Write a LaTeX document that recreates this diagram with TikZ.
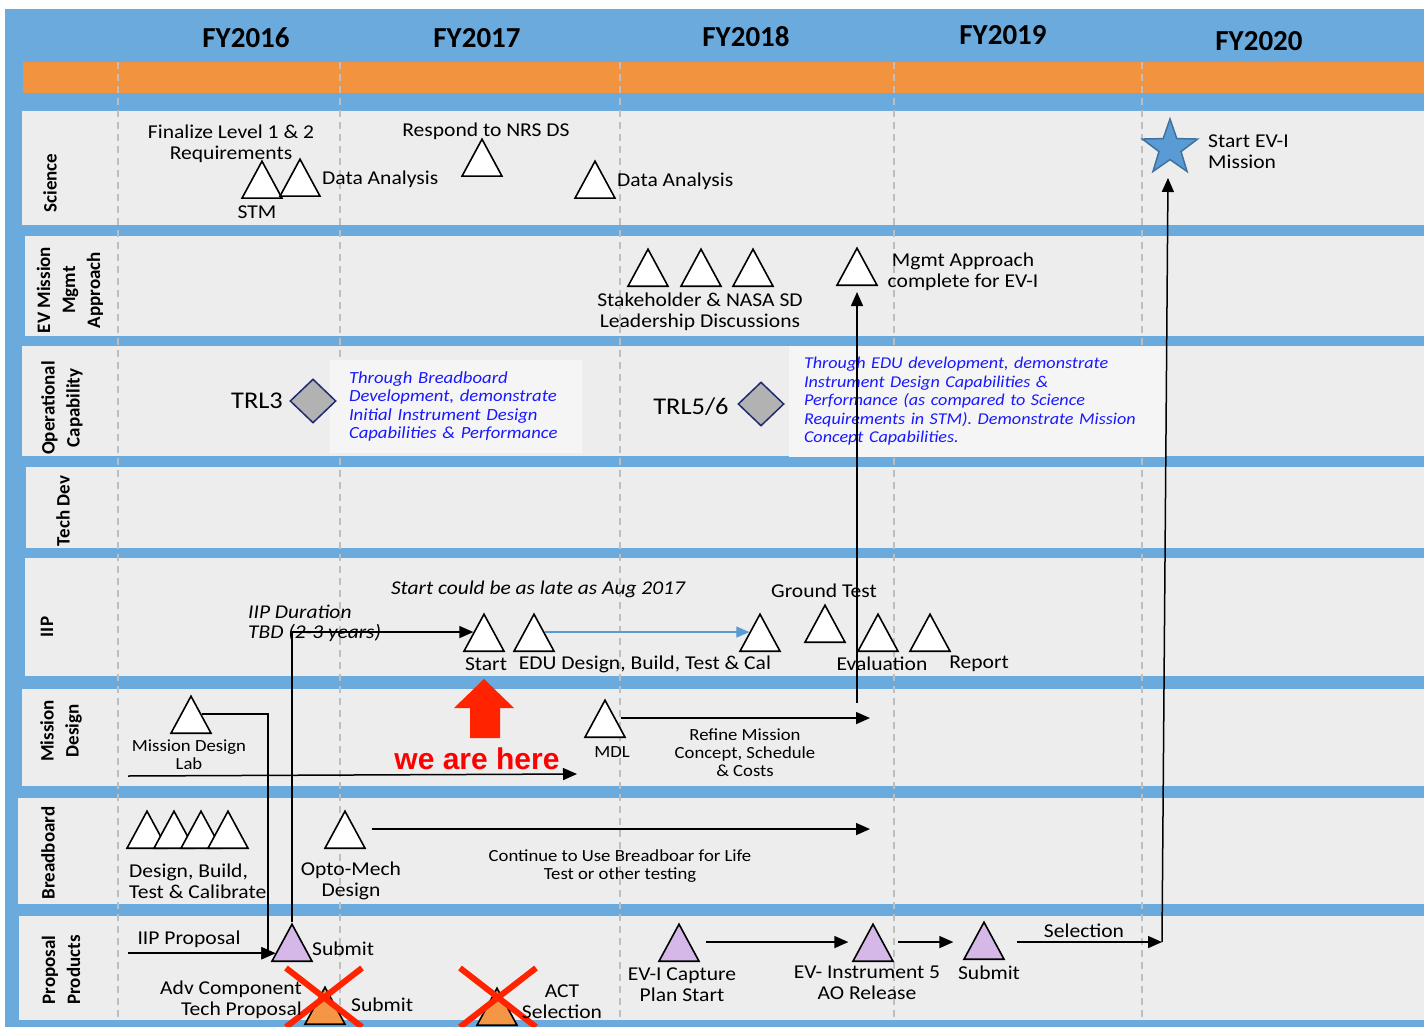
\documentclass[tikz,border=0pt]{standalone}
\usepackage{fontspec}
\setmainfont{Carlito}[FakeStretch=1.1]
\newfontfamily\headfont{Carlito}
\newfontfamily\herefont{Liberation Sans}
\usetikzlibrary{shapes.geometric,arrows.meta,calc}

\definecolor{bandblue}{RGB}{106,170,220}
\definecolor{bandorange}{RGB}{242,147,64}
\definecolor{rowgrey}{RGB}{237,237,237}
\definecolor{notegrey}{RGB}{245,245,245}
\definecolor{dashgrey}{RGB}{190,190,190}
\definecolor{msviolet}{RGB}{214,184,232}
\definecolor{msorange}{RGB}{245,150,70}
\definecolor{gatefill}{RGB}{178,178,178}
\definecolor{gatenavy}{RGB}{31,43,110}
\definecolor{starblue}{RGB}{91,155,213}
\definecolor{starline}{RGB}{65,113,156}
\definecolor{noteblue}{RGB}{25,25,255}
\definecolor{alertred}{RGB}{255,35,0}

\begin{document}
\begin{tikzpicture}[x=1pt,y=-1pt,
	ms/.style={isosceles triangle, shape border rotate=90, isosceles triangle stretches, minimum width=40pt, minimum height=37pt, inner sep=0pt, draw, line width=1.6pt, fill=white, anchor=lower side},
	pms/.style={ms, fill=msviolet},
	oms/.style={ms, fill=msorange},
	gate/.style={diamond, draw=gatenavy, fill=gatefill, line width=1.5pt, minimum width=46pt, minimum height=44pt, inner sep=0pt},
	lbl/.style={font=\fontsize{19.6}{21}\selectfont, inner sep=0pt, align=center},
	trl/.style={font=\fontsize{24}{26}\selectfont, inner sep=0pt},
	sml/.style={font=\fontsize{17}{18}\selectfont, inner sep=0pt, align=center},
	itl/.style={font=\itshape\fontsize{19.5}{20}\selectfont, inner sep=0pt, align=left},
	rowlbl/.style={font=\headfont\bfseries\fontsize{19}{25}\selectfont, rotate=90, inner sep=0pt, align=center},
	yr/.style={font=\headfont\bfseries\fontsize{29}{30}\selectfont, inner sep=0pt},
	note/.style={fill=notegrey, font=\itshape\fontsize{17}{18.5}\selectfont, text=noteblue, align=left, inner xsep=19pt, inner ysep=0pt},
	arr/.style={line width=1.5pt, -{Triangle[length=14pt,width=12pt]}},
	yrline/.style={draw=dashgrey, line width=1.3pt, dash pattern=on 7pt off 5pt},
	xout/.style={draw=alertred, line width=6pt}]
	\useasboundingbox (0,0) rectangle (1424,1027);
	% Bands and rows:
	\fill[white] (0,0) rectangle (1424,1027);
	\fill[bandblue] (5,9) rectangle (1424,1027);
	\fill[bandorange] (23,62) rectangle (1424,93);
	\fill[rowgrey] (22,111) rectangle (1424,225);
	\fill[rowgrey] (25,236) rectangle (1424,336);
	\fill[rowgrey] (22,346) rectangle (1424,456);
	\fill[rowgrey] (26,467) rectangle (1424,548);
	\fill[rowgrey] (25,558) rectangle (1424,676);
	\fill[rowgrey] (22,689) rectangle (1424,786);
	\fill[rowgrey] (18,798) rectangle (1424,904);
	\fill[rowgrey] (19,916) rectangle (1424,1020);
	\draw[yrline] (118,62) -- (118,1022);
	\draw[yrline] (340,62) -- (340,1022);
	\draw[yrline] (620,62) -- (620,1022);
	\draw[yrline] (894,62) -- (894,1022);
	\draw[yrline] (1142,62) -- (1142,1022);

	% Years and rows:
	\node[yr] (fy16) at (246,38) {FY2016};
	\node[yr] (fy17) at (477,38) {FY2017};
	\node[yr] (fy18) at (746,37) {FY2018};
	\node[yr] (fy19) at (1003,35) {FY2019};
	\node[yr] (fy20) at (1259,41) {FY2020};
	\node[rowlbl] (rsci) at (50,183) {Science};
	\node[rowlbl] (rev) at (70,290) {EV Mission\\Mgmt\\Approach};
	\node[rowlbl] (rop) at (62,408) {Operational\\Capability};
	\node[rowlbl] (rtd) at (63,511) {Tech Dev};
	\node[rowlbl] (riip) at (47,627) {IIP};
	\node[rowlbl] (rmd) at (61,731) {Mission\\Design};
	\node[rowlbl] (rbb) at (48,853) {Breadboard};
	\node[rowlbl] (rpp) at (61,970) {Proposal\\Products};

	% Notes on capability:
	\node[note, text width=214pt, minimum height=93pt] (bbnote) at (456,406.5) {Through Breadboard\\Development, demonstrate\\Initial Instrument Design\\Capabilities \& Performance};

	% Science:
	\node[ms] (stm) at (262,199) {};
	\node[ms] (da1) at (300,197) {};
	\node[ms] (nrs) at (482,177) {};
	\node[ms] (da2) at (595,199) {};
	\node[star, star points=5, star point ratio=2.5, minimum size=58pt, inner sep=0pt, draw=starline, fill=starblue, line width=1.5pt] (evi) at (1170,148) {};
	\node[lbl] (finl) at (231,143.5) {Finalize Level 1 \& 2\\Requirements};
	\node[lbl, anchor=west] (da1l) at (322,179) {Data Analysis};
	\node[lbl] (stml) at (257,212) {STM};
	\node[lbl] (nrsl) at (486,131) {Respond to NRS DS};
	\node[lbl, anchor=west] (da2l) at (617,181) {Data Analysis};
	\node[lbl, anchor=west, align=left] (evil) at (1208,151.5) {Start EV-I\\Mission};

	% EV Mission Mgmt Approach:
	\node[ms] (sh1) at (648,287) {};
	\node[ms] (sh2) at (701,287) {};
	\node[ms] (sh3) at (753,287) {};
	\node[ms] (mgmt) at (857,286) {};
	\node[lbl] (shl) at (700,311.5) {Stakeholder \& NASA SD\\Leadership Discussions};
	\node[lbl] (mgmtl) at (963,271.5) {Mgmt Approach\\complete for EV-I};

	% Operational Capability:
	\node[gate] (trl3) at (313,401) {};
	\node[gate] (trl56) at (761,404) {};
	\node[trl] (trl3l) at (257,401) {TRL3};
	\node[trl] (trl56l) at (691,407) {TRL5/6};
	\node[note, font=\itshape\fontsize{16.5}{18.5}\selectfont, text width=347pt, inner xsep=15pt, minimum height=111pt] (edunote) at (977.5,401.5) {Through EDU development, demonstrate\\Instrument Design Capabilities \&\\Performance (as compared to Science\\Requirements in STM). Demonstrate Mission\\Concept Capabilities.};

	% IIP:
	\node[ms] (start) at (484,652) {};
	\node[ms] (edu) at (534,652) {};
	\node[ms] (cal) at (760,652) {};
	\node[ms] (gt) at (825,643) {};
	\node[ms] (eval) at (878,652) {};
	\node[ms] (rep) at (930,652) {};
	\node[itl] (latel) at (538,589) {Start could be as late as Aug 2017};
	\node[itl, anchor=west] (durl) at (248,623) {IIP Duration\\TBD (2-3 years)};
	\node[lbl] (startl) at (486,664) {Start};
	\node[lbl] (edul) at (645,664) {EDU Design, Build, Test \& Cal};
	\node[lbl] (gtl) at (824,591) {Ground Test};
	\node[lbl] (evall) at (882,664) {Evaluation};
	\node[lbl] (repl) at (979,664) {Report};
	\draw[line width=1.2pt, draw=starblue, -{Triangle[length=13pt,width=11pt]}] (edu.right side) -- (cal.left side);

	% Mission Design:
	\node[ms] (lab) at (191,734) {};
	\node[ms] (mdl) at (605,738) {};
	\node[sml] (labl) at (189,755) {Mission Design\\Lab};
	\node[sml] (mdll) at (612,752) {MDL};
	\node[sml] (refl) at (745,753) {Refine Mission\\Concept, Schedule\\\& Costs};
	\fill[alertred] (470,738) -- (470,708) -- (454,708) -- (484,679) -- (514,708) -- (500,708) -- (500,738) -- cycle;
	\node[font=\herefont\bfseries\fontsize{30}{32}\selectfont, text=red, inner sep=0pt] (here) at (477,759) {we are here};
	\coordinate (mdfrom) at (128,776);
	\coordinate (mdto) at (577,774);
	\coordinate (refto) at (870,722);
	\coordinate (mgup) at (856,703);

	% Breadboard:
	\node[ms] (bb1) at (147,849) {};
	\node[ms] (bb2) at (174,849) {};
	\node[ms] (bb3) at (201,849) {};
	\node[ms] (bb4) at (228,849) {};
	\node[ms] (opto) at (345,849) {};
	\node[lbl, anchor=west, align=left] (bbl) at (129,881) {Design, Build,\\Test \& Calibrate};
	\node[lbl] (optol) at (351,881) {Opto-Mech\\Design};
	\node[sml] (contl) at (620,866) {Continue to Use Breadboar for Life\\Test or other testing};
	\coordinate (contto) at (870,832);

	% Proposal Products:
	\node[pms] (sub1) at (292,962) {};
	\node[oms] (acp) at (325,1025) {};
	\node[oms] (act) at (497,1026) {};
	\node[pms] (evc) at (679,962) {};
	\node[pms] (ev5) at (873,962) {};
	\node[pms] (sub2) at (984,960) {};
	\draw[xout] (286,968) -- (362,1027) (362,968) -- (286,1027);
	\draw[xout] (460,968) -- (536,1027) (536,968) -- (460,1027);
	\node[lbl] (iipl) at (189,939) {IIP Proposal};
	\node[lbl, anchor=west] (sub1l) at (312,949) {Submit};
	\node[lbl, anchor=east, align=right] (acpl) at (302,1000) {Adv Component\\Tech Proposal};
	\node[lbl, anchor=west] (acpsl) at (351,1005) {Submit};
	\node[lbl] (actl) at (562,1001.5) {ACT\\Selection};
	\node[lbl] (evcl) at (682,985) {EV-I Capture\\Plan Start};
	\node[lbl] (ev5l) at (867,983) {EV- Instrument 5\\AO Release};
	\node[lbl] (sub2l) at (989,973) {Submit};
	\node[lbl] (sell) at (1084,931) {Selection};
	\coordinate (iipfrom) at (128,955);
	\coordinate (mdturn) at (268,953);
	\coordinate (selto) at (1162,946);
	\coordinate (subin) at ($(sub1.left corner)!0.22!(sub1.apex)$);

	% Connectors:
	\draw[arr] (sub1.apex) |- (start.left side);
	\draw[arr] (lab.right side) -| (mdturn |- subin) -- (subin);
	\draw[arr] (subin -| iipfrom) -- (subin);
	\draw[arr] (mdfrom) -- (mdto);
	\draw[arr, shorten <=5pt] (mdl.right side) -- (mdl.right side -| refto);
	\draw[arr, shorten >=6pt] (mgmt.lower side |- mgup) -- (mgmt.lower side);
	\draw[arr, shorten <=16pt] (opto.right side) -- (opto.right side -| contto);
	\draw[arr, shorten <=16pt, shorten >=14pt] (evc.right side) -- (ev5.left side);
	\draw[arr, shorten <=14pt, shorten >=20pt] (ev5.right side) -- (ev5.right side -| sub2.left side);
	\draw[arr, shorten <=22pt] (ev5.right side -| sub2.right side) -- (ev5.right side -| selto);
	\draw[arr] (ev5.right side -| selto) -- ([shift={(-2pt,-30pt)}]evi.center);
\end{tikzpicture}
\end{document}
